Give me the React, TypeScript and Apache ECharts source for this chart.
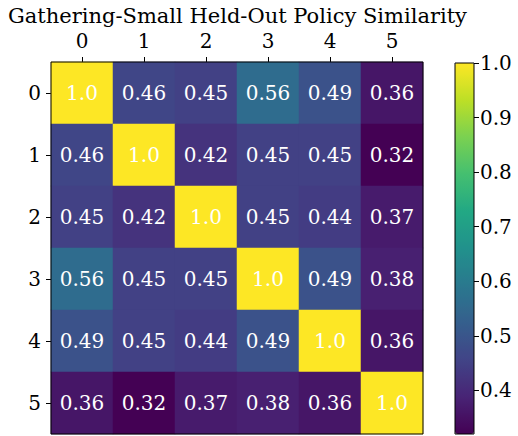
import React, { useEffect, useRef } from "react";
import * as echarts from "echarts";

const categories = ["0", "1", "2", "3", "4", "5"];
const row0 = [1.0, 0.46, 0.45, 0.56, 0.49, 0.36];
const row1 = [0.46, 1.0, 0.42, 0.45, 0.45, 0.32];
const row2 = [0.45, 0.42, 1.0, 0.45, 0.44, 0.37];
const row3 = [0.56, 0.45, 0.45, 1.0, 0.49, 0.38];
const row4 = [0.49, 0.45, 0.44, 0.49, 1.0, 0.36];
const row5 = [0.36, 0.32, 0.37, 0.38, 0.36, 1.0];
const rows = [row0, row1, row2, row3, row4, row5];
const colorbarTicks = [0.4, 0.5, 0.6, 0.7, 0.8, 0.9, 1.0];
const vMin = 0.32;
const vMax = 1.0;
const title = "Gathering-Small Held-Out Policy Similarity";

const viridis = [
  "#440154", "#482475", "#414487", "#355f8d", "#2a788e",
  "#21918c", "#22a884", "#44bf70", "#7ad151", "#bddf26", "#fde725",
];

const FONT = "DejaVu Serif";

export default function App() {
  const ref = useRef<HTMLDivElement>(null);
  useEffect(() => {
    if (!ref.current) return;
    const chart = echarts.init(ref.current, undefined, { renderer: "svg" });
    const data: [number, number, number][] = [];
    rows.forEach((r, y) => r.forEach((v, x) => data.push([x, y, v])));
    chart.setOption({
      animation: false,
      backgroundColor: "#fff",
      textStyle: { fontFamily: FONT },
      title: {
        text: title,
        top: 5,
        left: 8,
        padding: 0,
        textStyle: { fontFamily: FONT, fontSize: 21, fontWeight: "normal", color: "#000" },
      },
      grid: [
        { left: 51, top: 62, width: 372, height: 372, show: true, borderColor: "#000", borderWidth: 1, backgroundColor: "transparent", z: 5 },
        { left: 455, top: 63, width: 19, height: 371, show: true, borderColor: "#000", borderWidth: 1, backgroundColor: "transparent", z: 5 },
      ],
      xAxis: [
        {
          gridIndex: 0,
          type: "category",
          data: categories,
          position: "top",
          axisLine: { show: false },
          axisTick: { show: true, alignWithLabel: true, length: 5, lineStyle: { color: "#000" } },
          axisLabel: { color: "#000", fontSize: 20, fontFamily: FONT, margin: 11 },
          splitLine: { show: false },
        },
        {
          gridIndex: 1,
          type: "category",
          data: [""],
          show: false,
        },
      ],
      yAxis: [
        {
          gridIndex: 0,
          type: "category",
          data: categories,
          inverse: true,
          axisLine: { show: false },
          axisTick: { show: true, alignWithLabel: true, length: 5, lineStyle: { color: "#000" } },
          axisLabel: { color: "#000", fontSize: 20, fontFamily: FONT, margin: 10 },
          splitLine: { show: false },
        },
        {
          gridIndex: 1,
          type: "value",
          min: vMin,
          max: vMax,
          position: "right",
          axisLine: { show: false },
          axisTick: { show: true, length: 5, lineStyle: { color: "#000" }, customValues: colorbarTicks },
          axisLabel: {
            color: "#000",
            fontSize: 20,
            fontFamily: FONT,
            margin: 6,
            customValues: colorbarTicks,
            formatter: (v: number) => v.toFixed(1),
          },
          splitLine: { show: false },
        },
      ],
      visualMap: {
        type: "continuous",
        min: vMin,
        max: vMax,
        seriesIndex: 0,
        calculable: false,
        left: 455,
        top: 63,
        itemWidth: 19,
        itemHeight: 371,
        padding: 0,
        text: null,
        showLabel: false,
        inRange: { color: viridis },
      },
      series: [
        {
          type: "heatmap",
          xAxisIndex: 0,
          yAxisIndex: 0,
          data,
          label: {
            show: true,
            color: "#fff",
            fontSize: 20,
            fontFamily: FONT,
            formatter: (p: any) => {
              const v = p.value[2] as number;
              return v === 1 ? "1.0" : v.toFixed(2);
            },
          },
          itemStyle: { borderWidth: 0 },
          emphasis: { disabled: true },
        },
      ],
    });
    return () => chart.dispose();
  }, []);
  return <div ref={ref} style={{ width: 518, height: 436, position: "absolute", left: 0, top: 0 }} />;
}
